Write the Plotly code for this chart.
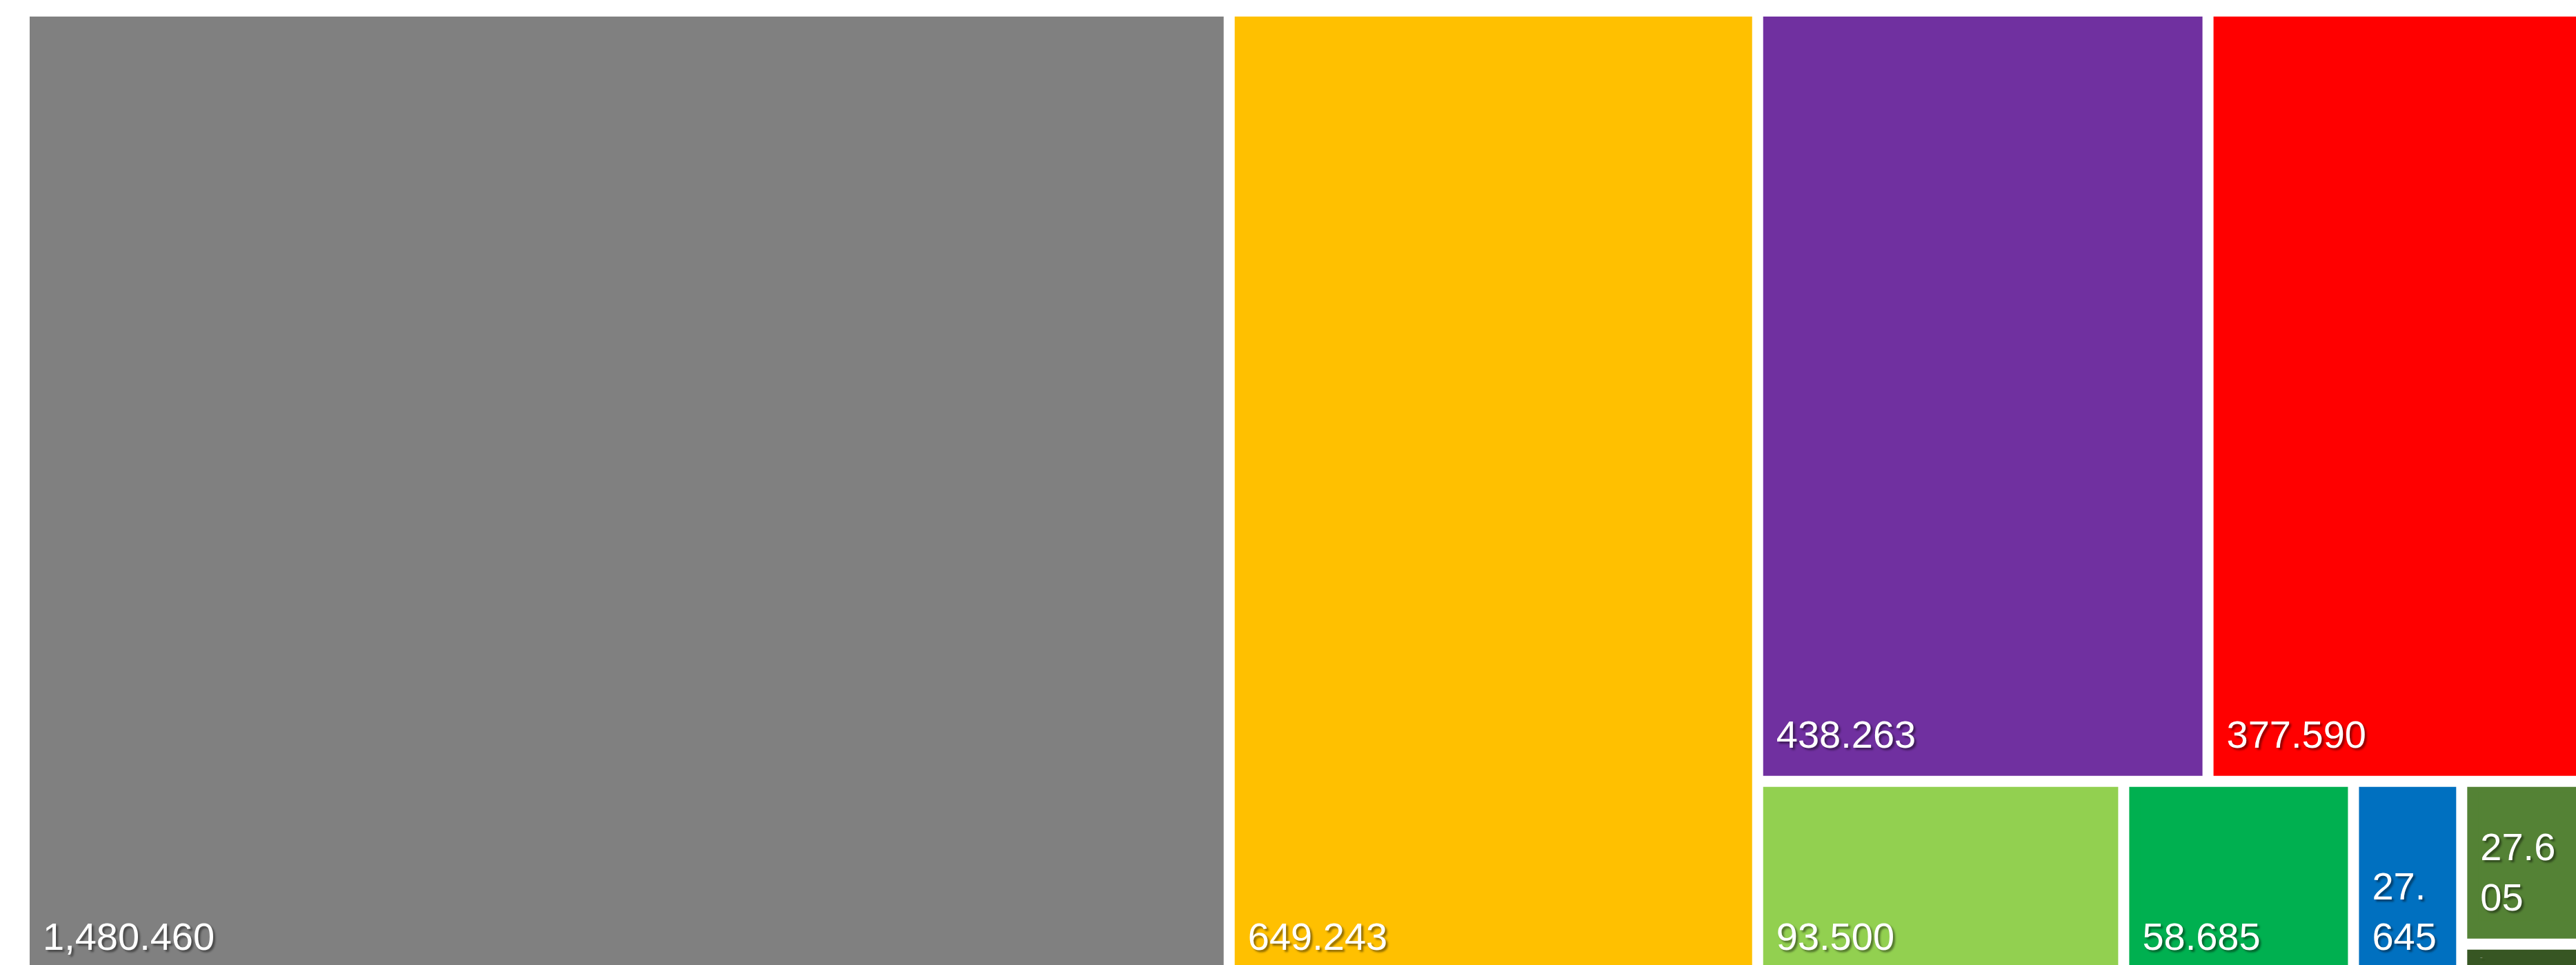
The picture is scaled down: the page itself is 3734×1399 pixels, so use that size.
import plotly.graph_objects as go

# Tile values, largest first
categories = ["A", "B", "C", "D", "E", "F", "G", "H", "I"]
values = [1480.460, 649.243, 438.263, 377.590, 93.500, 58.685, 27.645, 27.605, 6.700]
colors = ["#808080", "#FFC000", "#7030A0", "#FF0000", "#92D050",
          "#00B050", "#0070C0", "#548235", "#375623"]

# characters per line for labels in narrow tiles (0 = single line)
wrap_chars = [0, 0, 0, 0, 0, 0, 3, 4, 0]


def fmt(v, n):
    s = f"{v:,.3f}"
    if n:
        s = "<br>".join(s[i:i + n] for i in range(0, len(s), n))
    return s


labels_txt = [fmt(v, n) for v, n in zip(values, wrap_chars)]

# root -> one coloured tile per category -> one inner tile carrying the value label
# (the inner tile is inset by marker.pad so the label sits away from the tile edge)
n = len(categories)
ids = ["all"] + categories + [c + "-value" for c in categories]
parents = [""] + ["all"] * n + categories
vals = [0] + [0] * n + values
fill = ["#FFFFFF"] + colors + colors
# headers (root and category tiles) carry no visible caption
names = [" "] * (n + 1) + labels_txt
text = [" "] * (n + 1) + labels_txt

label_font = dict(
    family="Liberation Sans, Arial, sans-serif",
    size=56,
    color="#FFFFFF",
    shadow="3px 3px 3px rgba(0,0,0,0.45)",
)

fig = go.Figure(
    go.Treemap(
        ids=ids,
        labels=names,
        parents=parents,
        values=vals,
        branchvalues="remainder",
        sort=True,
        text=text,
        textinfo="text",
        textposition="bottom left",
        textfont=label_font,
        insidetextfont=label_font,
        marker=dict(
            colors=fill,
            line=dict(width=0),
            pad=dict(t=8, l=16, r=8, b=26),
            depthfade=False,
        ),
        tiling=dict(packing="squarify", squarifyratio=1, pad=16),
        pathbar=dict(visible=False),
        hoverinfo="skip",
    )
)

fig.update_layout(
    width=3763,
    height=1444,
    margin=dict(l=27, t=16, r=0, b=0, pad=0),
    paper_bgcolor="#FFFFFF",
    plot_bgcolor="#FFFFFF",
)

fig.write_html(
    "out.html",
    post_script="document.body.style.margin='0';document.body.style.overflow='hidden';",
)
